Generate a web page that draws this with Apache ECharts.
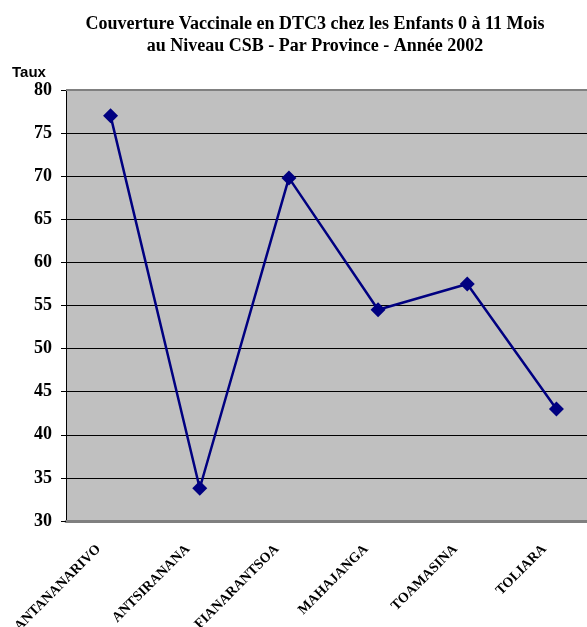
<!DOCTYPE html>
<html>
<head>
<meta charset="utf-8">
<script src="https://cdn.jsdelivr.net/npm/echarts@6/dist/echarts.min.js"></script>
<style>
html, body { margin: 0; padding: 0; background: #fff; }
#chart { width: 587px; height: 627px; }
</style>
</head>
<body>
<div id="chart"></div>
<script>
var provinces = ['ANTANANARIVO', 'ANTSIRANANA', 'FIANARANTSOA', 'MAHAJANGA', 'TOAMASINA', 'TOLIARA'];
var taux = [77.0, 33.8, 69.8, 54.5, 57.5, 43.0];
var yMin = 30, yMax = 80, yStep = 5;

var chart = echarts.init(document.getElementById('chart'));
var option = {
    animation: false,
    backgroundColor: '#ffffff',
    title: {
        text: 'Couverture Vaccinale en DTC3 chez les Enfants 0 à 11 Mois\nau Niveau CSB - Par Province - Année 2002',
        left: 310,
        top: 8,
        textAlign: 'center',
        textStyle: {
            fontFamily: 'Liberation Serif',
            fontWeight: 'bold',
            fontSize: 18,
            lineHeight: 22.5,
            color: '#000'
        }
    },
    graphic: [{
        type: 'text',
        left: 12,
        top: 65,
        style: {
            text: 'Taux',
            font: 'bold 15px "Liberation Sans"',
            fill: '#000'
        }
    }],
    grid: {
        left: 66,
        top: 90,
        width: 535,
        height: 431,
        outerBoundsMode: 'none',
        show: true,
        backgroundColor: '#c0c0c0',
        borderWidth: 0
    },
    xAxis: {
        type: 'category',
        data: provinces,
        boundaryGap: true,
        axisLine: { show: true, lineStyle: { color: '#808080', width: 3 } },
        axisTick: { show: false },
        axisLabel: {
            rotate: 45,
            margin: 14,
            padding: [0, 17, 0, 0],
            fontFamily: 'Liberation Serif',
            fontWeight: 'bold',
            fontSize: 14,
            color: '#000'
        }
    },
    yAxis: [{
        type: 'value',
        min: yMin,
        max: yMax,
        interval: yStep,
        axisLine: { show: true, lineStyle: { color: '#000', width: 1 } },
        axisTick: { show: true, length: 5, lineStyle: { color: '#000' } },
        axisLabel: {
            margin: 14,
            fontFamily: 'Liberation Serif',
            fontWeight: 'bold',
            fontSize: 18,
            color: '#000'
        },
        splitLine: { show: true, lineStyle: { color: '#000', width: 1 } }
    }],
    series: [{
        name: 'Taux',
        type: 'line',
        data: taux,
        symbol: 'diamond',
        symbolSize: 15,
        itemStyle: { color: '#000080' },
        lineStyle: { color: '#000080', width: 2.5 }
    }, {
        // bordure haute du cadre
        type: 'line',
        data: [],
        markLine: {
            silent: true,
            symbol: 'none',
            label: { show: false },
            lineStyle: { color: '#808080', width: 2, type: 'solid' },
            data: [{ yAxis: yMax }]
        }
    }]
};
chart.setOption(option);
</script>
</body>
</html>
